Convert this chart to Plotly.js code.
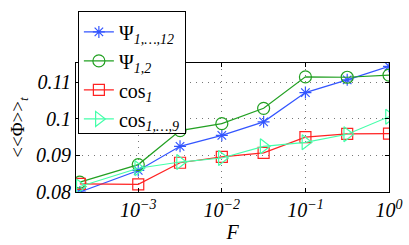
<!DOCTYPE html>
<html><head><meta charset="utf-8">
<script src="https://cdn.plot.ly/plotly-3.0.1.min.js"></script>
<style>body{margin:0;padding:0;background:#fff}#chart{width:409px;height:245px}</style>
</head><body><div id="chart"></div>
<script>
const F = [2e-4, 1e-3, 3.162e-3, 1e-2, 3.162e-2, 1e-1, 3.162e-1, 1];
const psi112 = [0.0800, 0.0859, 0.0925, 0.0955, 0.0992, 0.1072, 0.1107, 0.1144];
const psi12  = [0.0827, 0.0875, 0.0968, 0.0987, 0.1029, 0.1115, 0.1114, 0.1120];
const cos1   = [0.0822, 0.0821, 0.0880, 0.0896, 0.0907, 0.0950, 0.0959, 0.0960];
const cos19  = [0.0815, 0.0865, 0.0882, 0.0893, 0.0925, 0.0936, 0.0958, 0.1006];
const names = ["Ψ<sub><i>1,…,12</i></sub>", "Ψ<sub><i>1,2</i></sub>", "cos<sub><i>1</i></sub>", "cos<sub><i>1,…,9</i></sub>"];
const xTickVals = [1e-3, 1e-2, 1e-1, 1];
const xTickText = ["<i>10<sup>−3</sup></i>", "<i>10<sup>−2</sup></i>", "<i>10<sup>−1</sup></i>", "<i>10<sup>0</sup></i>"];
const yTickVals = [0.08, 0.09, 0.1, 0.11];
const yTickText = ["<i>0.08</i>", "<i>0.09</i>", "<i>0.1</i>", "<i>0.11</i>"];

const styles = [
  {color:"#3355ff", symbol:"asterisk-open", size:10},
  {color:"#22a022", symbol:"circle-open", size:12},
  {color:"#ff2222", symbol:"square-open", size:11},
  {color:"#44ffaa", symbol:"triangle-right-open", size:13}
];
const series = [psi112, psi12, cos1, cos19];
const traces = series.map((s,i)=>({
  x: F, y: s, type:"scatter", mode:"lines+markers", name: names[i],
  line:{color:styles[i].color, width:1.2},
  marker:{symbol:styles[i].symbol, size:styles[i].size, color:styles[i].color, line:{color:styles[i].color, width:1.2}}
}));
const serif = "Liberation Serif";
const grid = {showgrid:true, gridcolor:"#777", griddash:"1px,5px", gridwidth:1,
  showline:true, linecolor:"#000", linewidth:1, mirror:"ticks", zeroline:false,
  ticks:"inside", ticklen:4, tickcolor:"#000"};
const layout = {
  width:409, height:245,
  margin:{l:76, r:20, t:60, b:53},
  paper_bgcolor:"#fff", plot_bgcolor:"#fff",
  font:{family:serif, color:"#000"},
  showlegend:true,
  legend:{x:0.006, y:1.40, xanchor:"left", yanchor:"top", bgcolor:"#fff", bordercolor:"#000", borderwidth:1,
    font:{family:serif, size:20, color:"#000"}, tracegroupgap:0},
  xaxis:Object.assign({type:"log", range:[Math.log10(1.8e-4), 0], tickvals:xTickVals, ticktext:xTickText,
    tickfont:{family:serif, size:20, color:"#000"},
    title:{text:"<i>F</i>", font:{family:serif, size:20, color:"#000"}, standoff:0}}, grid),
  yaxis:Object.assign({range:[0.08, 0.1153], tickvals:yTickVals, ticktext:yTickText,
    tickfont:{family:serif, size:20, color:"#000"},
    title:{text:"&lt;&lt;Φ&gt;&gt;<sub><i>t</i></sub>", font:{family:serif, size:19, color:"#000"}, standoff:6}}, grid)
};
Plotly.newPlot("chart", traces, layout, {displayModeBar:false, staticPlot:true});
</script></body></html>
